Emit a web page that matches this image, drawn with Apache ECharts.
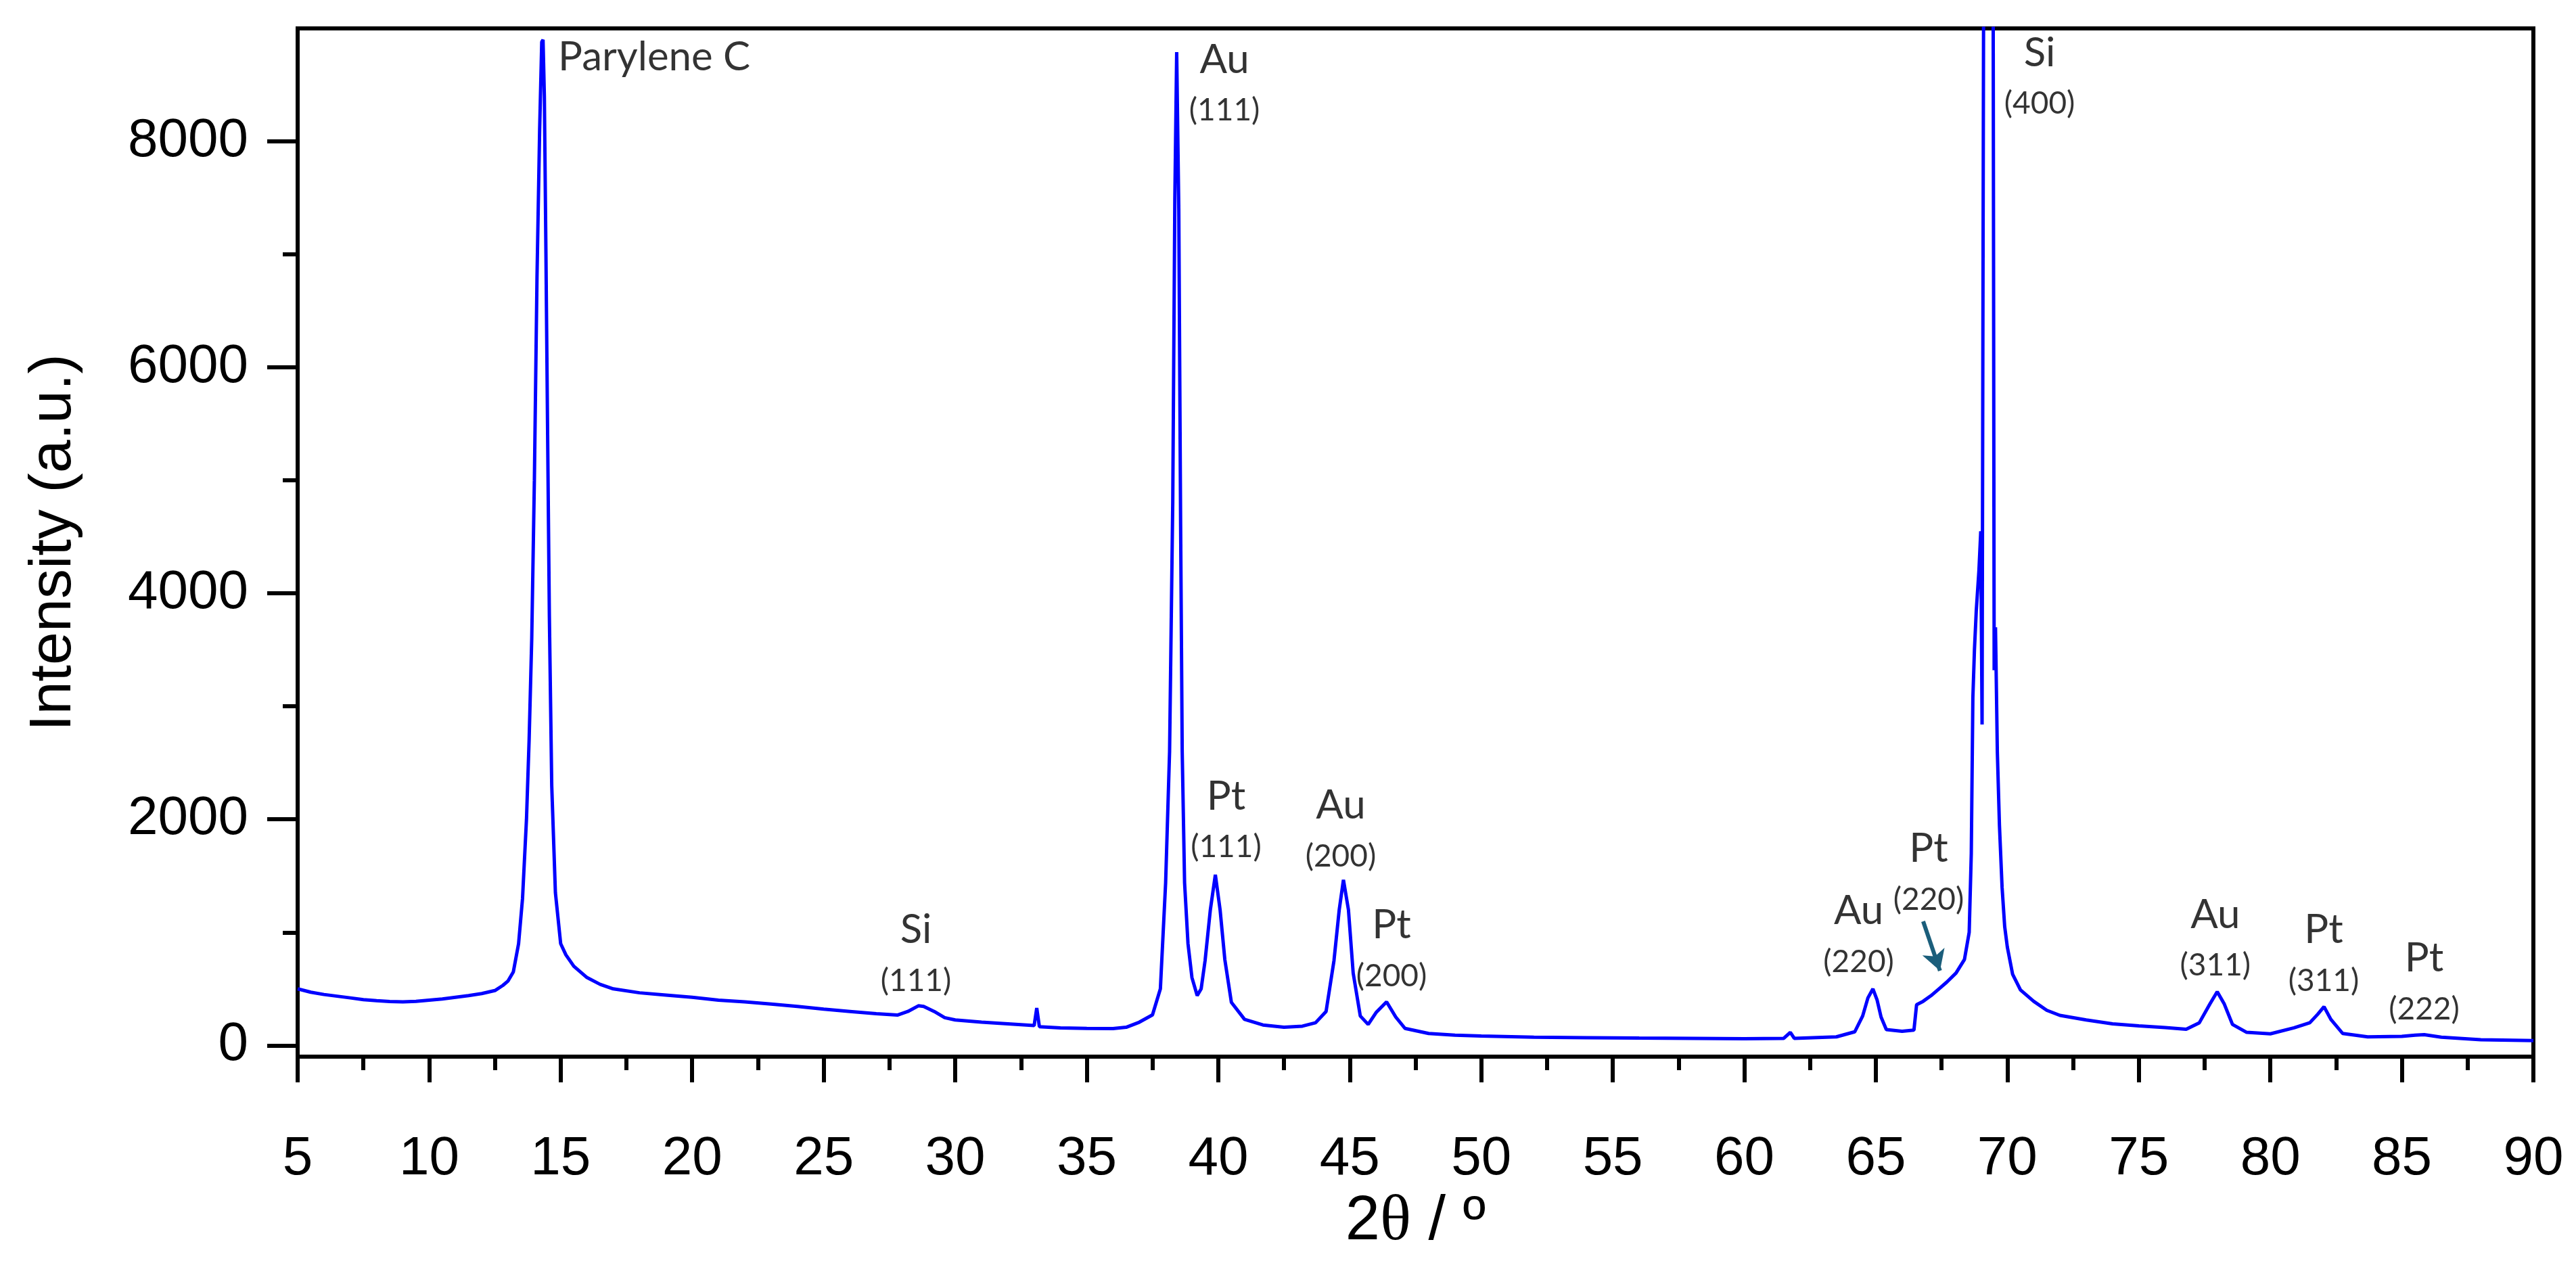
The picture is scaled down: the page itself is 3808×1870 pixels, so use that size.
<!DOCTYPE html>
<html>
<head>
<meta charset="utf-8">
<title>XRD pattern</title>
<script src="https://cdn.jsdelivr.net/npm/echarts@6/dist/echarts.min.js"></script>
<style>
  html, body { margin: 0; padding: 0; background: #fff; }
  #chart { width: 3808px; height: 1870px; }
</style>
</head>
<body>
<div id="chart"></div>
<script>
// 2theta positions (deg) and intensities
const twoTheta = [
  5.0, 5.5, 6.0, 6.5, 7.0, 7.5, 8.0, 8.5, 9.0, 9.5, 10.0, 10.5, 11.0, 11.5, 12.0, 12.5, 12.8,
  13.0, 13.2, 13.4, 13.55, 13.7, 13.8, 13.9, 14.0, 14.1, 14.2, 14.28, 14.33, 14.38, 14.44, 14.5,
  14.57, 14.66, 14.8, 15.0, 15.2, 15.5, 16.0, 16.5, 17.0, 18.0, 19.0, 20.0, 21.0, 22.0, 23.0,
  24.0, 25.0, 26.0, 27.0, 27.8, 28.2, 28.6, 28.8, 29.2, 29.6, 30.0, 31.0, 32.0, 33.0, 33.1, 33.2,
  34.0, 35.0, 36.0, 36.5, 37.0, 37.5, 37.8, 38.0, 38.15, 38.27, 38.35, 38.42, 38.5, 38.57, 38.63,
  38.72, 38.85, 39.0, 39.2, 39.35, 39.5, 39.7, 39.89, 40.07, 40.25, 40.5, 41.0, 41.7, 42.5, 43.2,
  43.7, 44.1, 44.4, 44.6, 44.76, 44.95, 45.13, 45.4, 45.7, 46.0, 46.4, 46.75, 47.1, 48.0, 49.0,
  50.0, 52.0, 54.0, 56.0, 58.0, 60.0, 61.5, 61.75, 61.9, 63.5, 64.2, 64.5, 64.7, 64.89, 65.05,
  65.2, 65.4, 66.0, 66.45, 66.55, 66.8, 67.1, 67.4, 67.7, 68.05, 68.37, 68.55, 68.63, 68.69,
  68.75, 68.82, 68.92, 68.99, 69.04, 69.1, 69.2, 69.3, 69.4, 69.46, 69.5, 69.55, 69.62, 69.7,
  69.8, 69.9, 70.0, 70.2, 70.5, 71.0, 71.5, 72.0, 73.0, 74.0, 75.0, 76.0, 76.8, 77.3, 77.7,
  77.98, 78.25, 78.56, 79.1, 80.0, 80.9, 81.5, 81.8, 82.04, 82.3, 82.75, 83.7, 85.0, 85.5,
  85.85, 86.5, 88.0, 90.0
];
const intensity = [
  500, 470, 450, 435, 420, 405, 395, 388, 385, 390, 400, 410, 425, 440, 458, 485, 530,
  570, 650, 900, 1300, 2000, 2700, 3600, 5000, 6800, 8100, 8880, 8900, 8400, 7000, 5500,
  3800, 2300, 1350, 900, 800, 700, 600, 540, 500, 465, 445, 425, 400, 385, 365,
  345, 320, 300, 280, 268, 300, 350, 345, 300, 245, 225, 205, 190, 175, 330, 165,
  155, 150, 148, 160, 205, 270, 500, 1440, 2600, 4800, 7500, 8790, 7400, 4600, 2600,
  1440, 900, 600, 440, 500, 750, 1200, 1510, 1200, 760, 380, 230, 180, 160, 170,
  200, 300, 750, 1200, 1465, 1200, 640, 260, 185, 290, 385, 250, 150, 105, 90,
  82, 72, 68, 64, 62, 58, 62, 115, 62, 75, 120, 260, 420, 500, 400,
  250, 140, 125, 135, 360, 390, 440, 500, 560, 640, 760, 1000, 1700, 3076,
  3500, 3850, 4200, 4550, 2840, 9500, 13000, 16000, 13000, 9500, 3320, 3700, 2600, 1950,
  1400, 1050, 870, 630, 490, 390, 310, 265, 225, 190, 172, 158, 142, 200, 365,
  475, 365, 185, 115, 102, 155, 200, 275, 342, 230, 105, 75, 80, 90,
  95, 72, 50, 42
];

// axis ticks
const yMajorTicks = [0, 2000, 4000, 6000, 8000];
const yMinorTicks = [1000, 3000, 5000, 7000];

// peak annotations
const peakNames = ['Parylene C', 'Si', 'Au', 'Pt', 'Au', 'Pt', 'Au', 'Pt', 'Si', 'Au', 'Pt', 'Pt'];
const peakPlanes = ['', '(111)', '(111)', '(111)', '(200)', '(200)', '(220)', '(220)', '(400)', '(311)', '(311)', '(222)'];
const labelTwoTheta = [18.57, 28.52, 40.25, 40.31, 44.67, 46.6, 64.36, 67.02, 71.24, 77.92, 82.04, 85.86];
const labelIntensity = [8740, 794, 8495, 1974, 1894, 834, 960, 1510, 8555, 926, 794, 542];
// arrow pointing at the Pt(220) shoulder
const arrowFrom = [66.80, 1097];
const arrowTo = [67.44, 660];

const chart = echarts.init(document.getElementById('chart'));

const pattern = twoTheta.map((t, i) => [t, intensity[i]]);
const labelPoints = peakNames.map((n, i) => ({
  value: [labelTwoTheta[i], labelIntensity[i]],
  name: n,
  plane: peakPlanes[i]
}));

const axisFont = 'Liberation Sans, Arial, sans-serif';
const black = '#000';

chart.setOption({
  animation: false,
  backgroundColor: '#fff',
  grid: {
    left: 440, right: 63, top: 42, bottom: 308,
    show: true, borderColor: black, borderWidth: 6, backgroundColor: 'transparent'
  },
  xAxis: {
    type: 'value',
    min: 5, max: 90, interval: 5,
    name: '{a|2}{t|θ}{a| / º}',
    nameLocation: 'middle',
    nameGap: 192,
    nameTextStyle: {
      rich: {
        a: { fontSize: 92, fontFamily: axisFont, color: black },
        t: { fontSize: 96, fontFamily: 'Liberation Serif, serif', color: black }
      }
    },
    axisLine: { onZero: false, lineStyle: { color: black, width: 6 } },
    axisTick: { length: 38, lineStyle: { color: black, width: 6 } },
    minorTick: { show: true, splitNumber: 2, length: 20, lineStyle: { color: black, width: 6 } },
    axisLabel: { fontSize: 80, fontFamily: axisFont, color: black, margin: 112 },
    splitLine: { show: false }
  },
  yAxis: [{
    type: 'value',
    min: -100, max: 9000,
    name: 'Intensity (a.u.)',
    nameLocation: 'middle',
    nameGap: 316,
    nameTextStyle: { fontSize: 88, fontFamily: axisFont, color: black },
    axisLine: { show: true, lineStyle: { color: black, width: 6 } },
    axisTick: { customValues: yMajorTicks, length: 45, lineStyle: { color: black, width: 6 } },
    axisLabel: {
      customValues: yMajorTicks, fontSize: 80, fontFamily: axisFont, color: black, margin: 73,
      formatter: v => String(v)
    },
    splitLine: { show: false }
  }, {
    // only carries the short minor ticks
    type: 'value',
    min: -100, max: 9000,
    position: 'left',
    axisLine: { show: false },
    axisTick: { show: true, customValues: yMinorTicks, length: 22, lineStyle: { color: black, width: 6 } },
    axisLabel: { show: false },
    splitLine: { show: false }
  }],
  series: [{
    type: 'line',
    data: pattern,
    showSymbol: false,
    clip: true,
    lineStyle: { color: '#0000ff', width: 5 },
    markLine: {
      silent: true,
      symbol: ['none', 'arrow'],
      symbolSize: [26, 30],
      label: { show: false },
      lineStyle: { color: '#1b5e7b', width: 6, type: 'solid' },
      data: [[{ coord: arrowFrom }, { coord: arrowTo }]]
    }
  }, {
    type: 'scatter',
    data: labelPoints,
    symbolSize: 1,
    itemStyle: { color: 'transparent' },
    silent: true,
    label: {
      show: true,
      position: [0, 0],
      align: 'center',
      verticalAlign: 'middle',
      formatter: p => p.data.plane ? '{n|' + p.data.name + '}\n{p|' + p.data.plane + '}' : '{n|' + p.data.name + '}',
      rich: {
        n: { fontSize: 60, fontFamily: 'Lato, sans-serif', color: '#000', lineHeight: 75, align: 'center' },
        p: { fontSize: 46, fontFamily: 'Lato, sans-serif', color: '#000', lineHeight: 75, align: 'center' }
      }
    }
  }]
});
</script>
</body>
</html>
